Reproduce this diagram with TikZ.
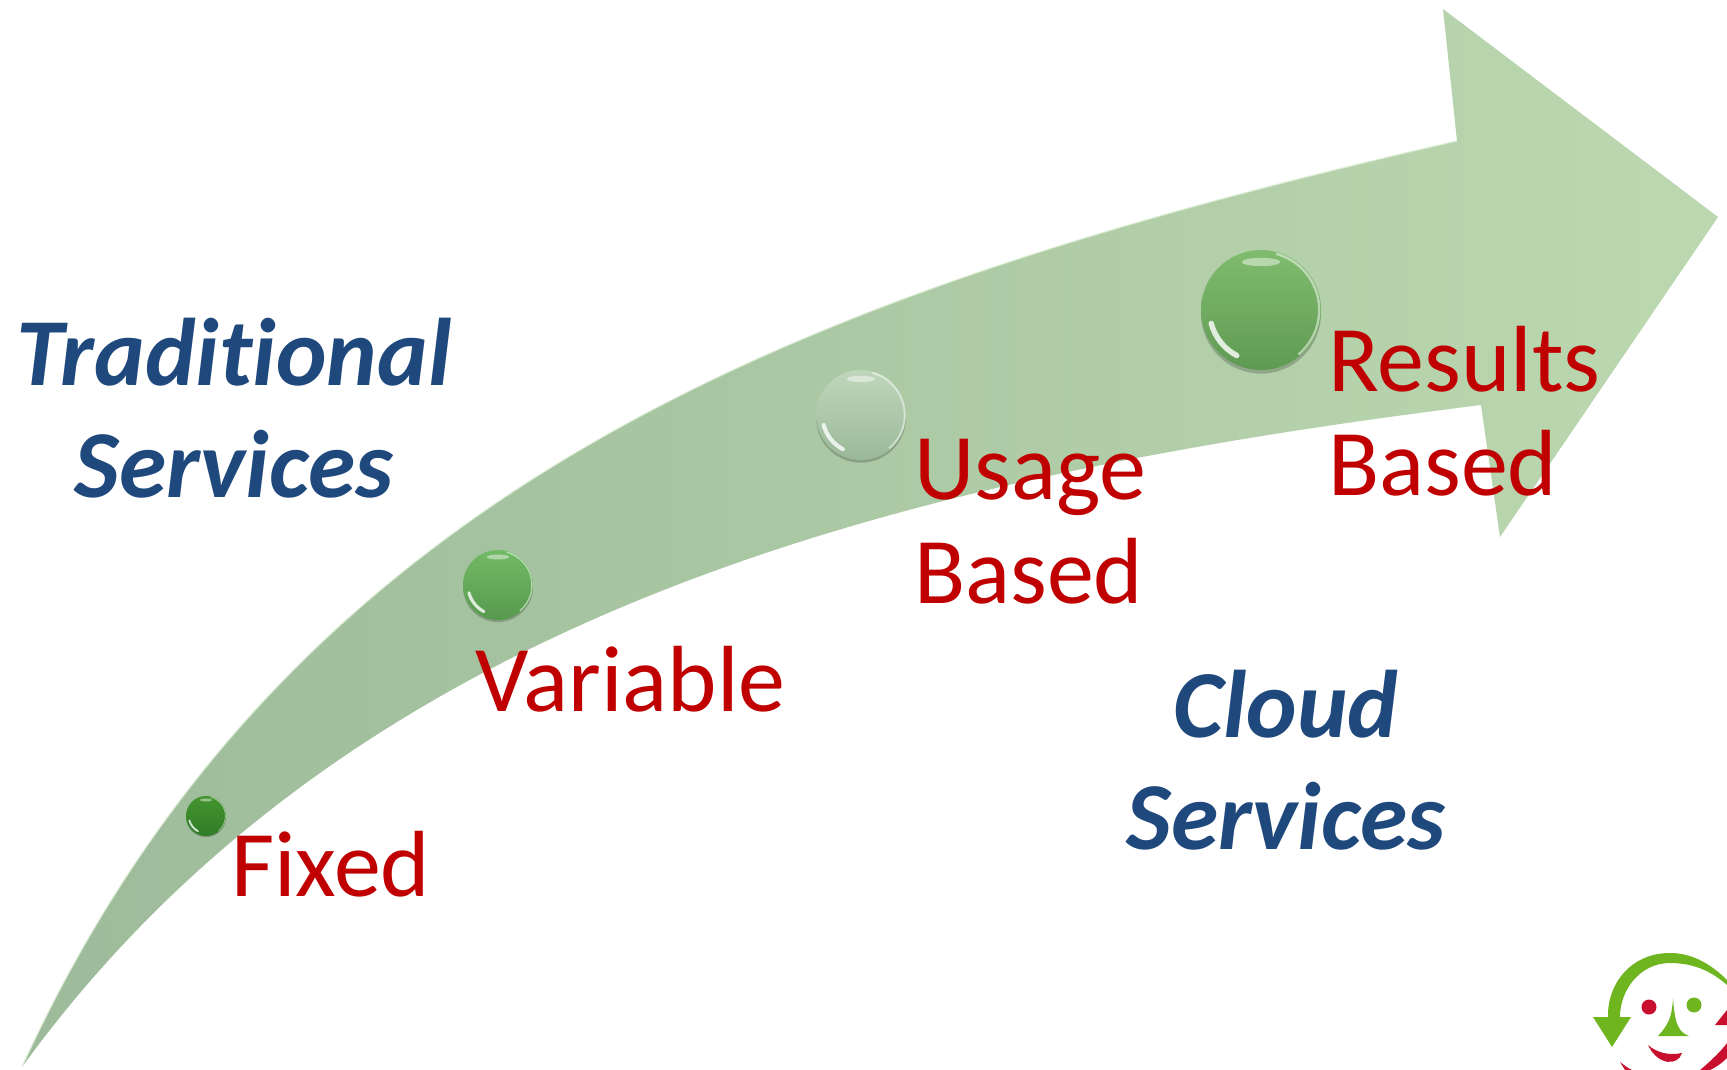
\documentclass[tikz,border=0pt]{standalone}
\usepackage{fontspec}
\setmainfont[Ligatures=NoCommon]{Carlito}
\definecolor{redtxt}{HTML}{C00000}
\definecolor{bluetxt}{HTML}{1F497D}
\definecolor{logogreen}{HTML}{6FB51F}
\definecolor{logored}{HTML}{C8102E}
\definecolor{arrowtail}{HTML}{9DBA9A}
\definecolor{arrowhead}{HTML}{BBD8B0}
\definecolor{arrowedge}{HTML}{DCEFD4}
\definecolor{fixT}{HTML}{43952F}\definecolor{fixB}{HTML}{2F7C27}
\definecolor{varT}{HTML}{72BA66}\definecolor{varB}{HTML}{57994E}
\definecolor{useT}{HTML}{C0D6BC}\definecolor{useB}{HTML}{9AB998}
\definecolor{resT}{HTML}{80BC6E}\definecolor{resB}{HTML}{5F9A52}
\tikzset{
 x=1pt,y=-1pt,
 redlabel/.style={text=redtxt,font=\fontsize{94}{104}\selectfont,align=left,anchor=west,inner sep=0pt},
 bluelabel/.style={text=bluetxt,font=\fontsize{96}{112}\selectfont\bfseries\itshape,align=center,inner sep=0pt},
 bubble/.style={circle,inner sep=0pt,minimum size=#1}
}
\newcommand{\drawbubble}[6]{% name, x, y, radius, top colour, bottom colour
 \fill[black,opacity=.2] (#2,#3+.06*#4) circle[radius=#4*1.0];
 \node[bubble=2*#4 pt,top color=#5,bottom color=#6] (#1) at (#2,#3) {};
 \draw[white,opacity=.5,line width=.04*#4 pt] (#2,#3) ++(-75:.97*#4) arc[start angle=-75,end angle=50,radius=.97*#4];
 \draw[white,opacity=.8,line cap=round,line width=.09*#4 pt] (#2,#3) ++(165:.86*#4) arc[start angle=165,end angle=118,radius=.86*#4];
 \fill[white,opacity=.45] (#2,#3-.8*#4) ellipse[x radius=.32*#4,y radius=.07*#4];
}
\begin{document}
\begin{tikzpicture}
\useasboundingbox (0,0) rectangle (1727,1070);
\fill[white] (0,0) rectangle (1727,1070);
% sweeping arrow
\path[left color=arrowtail,right color=arrowhead]
  (22,1067) .. controls (290,480) and (815,288) .. (1457,141)
  -- (1443,9) -- (1718,217) -- (1500,537) -- (1481,405)
  .. controls (919,475) and (357,605) .. (22,1067) -- cycle;
\draw[arrowedge,line width=1.3pt,opacity=.7] (22,1067) .. controls (290,480) and (815,288) .. (1457,141);
% bubbles
\drawbubble{bubA}{206}{816}{20}{fixT}{fixB}
\drawbubble{bubB}{498}{585}{35}{varT}{varB}
\drawbubble{bubC}{861}{415}{45}{useT}{useB}
\drawbubble{bubD}{1261}{310}{60}{resT}{resB}
% labels
\node[redlabel] (fixed) at (231,864) {Fixed};
\node[redlabel] (variable) at (475,679) {Variable};
\node[redlabel] (usage) at (914,522) {Usage\\Based};
\node[redlabel] (results) at (1328,411) {Results\\Based};
\node[bluelabel] (trad) at (234,408) {Traditional\\Services};
\node[bluelabel] (cloud) at (1286,760) {Cloud\\Services};
% logo
\begin{scope}
\clip (1590,950) rectangle (1727,1070);
\fill[logogreen] (1727,980)
  .. controls (1705,958) and (1685,953) .. (1670,953)
  .. controls (1630,953) and (1607,985) .. (1608,1017)
  -- (1593,1017) -- (1612,1047) -- (1631,1017) -- (1620,1017)
  .. controls (1620,990) and (1640,963) .. (1670,963)
  .. controls (1695,963) and (1712,972) .. (1727,985) -- cycle;
\node[circle,fill=logored,inner sep=0pt,minimum size=15pt] (eyeL) at (1649,1007) {};
\node[circle,fill=logogreen,inner sep=0pt,minimum size=15pt] (eyeR) at (1694,1005) {};
\fill[logogreen] (1673,998) .. controls (1672,1018) and (1668,1025) .. (1658,1036)
  -- (1689,1036) .. controls (1680,1032) and (1675,1028) .. (1673,998) -- cycle;
\fill[logored] (1648,1045) .. controls (1656,1052) and (1668,1056) .. (1682,1053)
  .. controls (1678,1066) and (1658,1066) .. (1648,1045) -- cycle;
\fill[logored] (1715,1025) -- (1727,1010) -- (1727,1025) -- cycle;
\fill[logored] (1700,1070) .. controls (1712,1060) and (1722,1050) .. (1727,1043) -- (1727,1058) .. controls (1722,1063) and (1715,1068) .. (1710,1070) -- cycle;
\fill[logored] (1620,1062) .. controls (1625,1066) and (1628,1068) .. (1632,1070) -- (1625,1070) -- cycle;
\end{scope}
\end{tikzpicture}
\end{document}
